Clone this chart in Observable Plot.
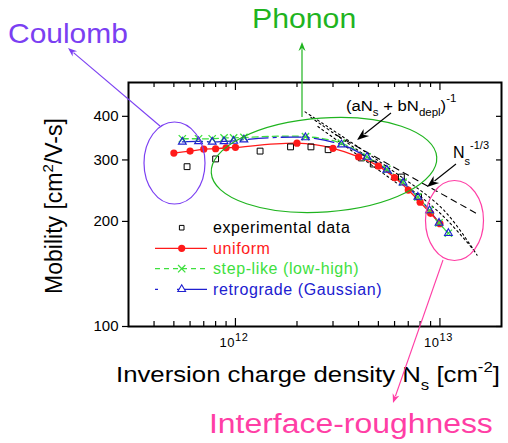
<!DOCTYPE html>
<html><head><meta charset="utf-8">
<script src="https://cdn.jsdelivr.net/npm/d3@7"></script>
<script src="https://cdn.jsdelivr.net/npm/@observablehq/plot@0.6"></script>
<style>
html,body{margin:0;padding:0;background:#fff;}
#chart{position:relative;width:508px;height:443px;overflow:hidden;}
svg{overflow:visible;}
</style></head><body><div id="chart"></div>
<script>
// ---------- data ----------
const nsUniform = [5e11, 6e11, 7e11, 8e11, 9e11, 1e12, 2e12, 3e12, 4e12, 5e12, 6e12, 7e12, 8e12, 9e12, 1e13];
const muUniform = [314, 318, 322, 323, 325, 326, 335, 324, 306, 288, 267, 246, 227, 211, 197];

const nsProfile = [5.5e11, 6.6e11, 7.7e11, 8.8e11, 9.8e11, 1.1e12, 2.2e12, 3.3e12, 4.4e12, 5.5e12, 6.6e12, 7.8e12, 8.9e12, 9.9e12, 1.1e13];
const muStepLike = [345, 345, 345, 347, 347, 348, 350, 335, 306, 282, 259, 235, 215, 198, 185];
const muRetrograde = [338, 339, 338, 339, 340, 343, 348, 332, 306, 281, 258, 235, 215, 198, 185];

const nsExperimental = [5.8e11, 8.0e11, 1.32e12, 1.86e12, 2.34e12, 2.84e12, 4.13e12, 4.72e12, 6.48e12, 7.86e12];
const muExperimental = [287, 302, 318, 327, 327, 321, 304, 292, 268, 235];

// theoretical guide lines
const nsDeplA = [2.19e12, 5.79e12, 1.04e13, 1.52e13];
const muDeplA = [412, 281, 216, 160];
const nsDeplB = [2.34e12, 5.92e12, 1.02e13, 1.47e13];
const muDeplB = [397, 270, 209, 165];
const nsDeplC = [2.53e12, 6.12e12];
const muDeplC = [374, 258];
const nsPower = [3.1e12, 1.55e13];
const muPower = [354, 209];

// axis ticks
const xMajorTicks = [1e12, 1e13];
const xMajorLabels = [["10", "12"], ["10", "13"]];
const xMinorTicks = [4e11, 5e11, 6e11, 7e11, 8e11, 9e11, 2e12, 3e12, 4e12, 5e12, 6e12, 7e12, 8e12, 9e12];
const yTicks = [100, 200, 300, 400];

const seriesNames = ["experimental data", "uniform", "step-like (low-high)", "retrograde (Gaussian)"];

// ---------- build tables ----------
const zip = (xs, ys) => xs.map((x, i) => ({ns: x, mu: ys[i]}));
const uniform = zip(nsUniform, muUniform);
const stepLike = zip(nsProfile, muStepLike);
const retro = zip(nsProfile, muRetrograde);
const expData = zip(nsExperimental, muExperimental);

const FONT = "Arial, 'Liberation Sans', Helvetica, sans-serif";
const RED = "#ff1a1a", GREEN = "#3ee03e", BLUE = "#2020d0";
const PURPLE = "#7b3ff2", PGREEN = "#1fb41f", PINK = "#ff3ea5";

const W = 508, H = 443, ML = 128, MR = 7, MT = 82, MB = 117;
const FW = W - ML - MR, FH = H - MT - MB;

const chart = Plot.plot({
  width: W, height: H,
  marginLeft: ML, marginRight: MR, marginTop: MT, marginBottom: MB,
  x: {type: "log", domain: [3e11, 2e13], axis: null},
  y: {type: "log", domain: [100, 500]},
  style: {fontFamily: FONT, background: "white", color: "#000"},
  marks: [
    Plot.line(zip(nsDeplA, muDeplA), {x: "ns", y: "mu", stroke: "#000", strokeWidth: 1.1, strokeDasharray: "2,3", curve: "catmull-rom"}),
    Plot.line(zip(nsDeplB, muDeplB), {x: "ns", y: "mu", stroke: "#000", strokeWidth: 1.1, strokeDasharray: "2,3", curve: "catmull-rom"}),
    Plot.line(zip(nsDeplC, muDeplC), {x: "ns", y: "mu", stroke: "#000", strokeWidth: 1.1, strokeDasharray: "2,3"}),
    Plot.line(zip(nsPower, muPower), {x: "ns", y: "mu", stroke: "#000", strokeWidth: 1.1, strokeDasharray: "6,5"}),
    Plot.line(stepLike, {x: "ns", y: "mu", stroke: GREEN, strokeWidth: 1.3, strokeDasharray: "6,4", curve: "catmull-rom"}),
    Plot.line(retro, {x: "ns", y: "mu", stroke: BLUE, strokeWidth: 1.3, strokeDasharray: "20,5,3,5", curve: "catmull-rom"}),
    Plot.line(uniform, {x: "ns", y: "mu", stroke: RED, strokeWidth: 1.3, curve: "catmull-rom"}),
    Plot.dot(expData, {x: "ns", y: "mu", symbol: "square", r: 3.3, stroke: "#000", strokeWidth: 1, fill: "none"}),
    Plot.dot(uniform, {x: "ns", y: "mu", symbol: "circle", r: 3.6, fill: RED, stroke: "none"}),
    Plot.dot(stepLike, {x: "ns", y: "mu", symbol: "times", r: 3.4, stroke: GREEN, strokeWidth: 1.3}),
    Plot.dot(retro, {x: "ns", y: "mu", symbol: "triangle", r: 2.9, stroke: BLUE, strokeWidth: 1.1, fill: "none"}),
    // inward ticks bottom/top
    Plot.tickX(xMinorTicks, {x: d => d, insetTop: FH - 5, stroke: "#000", strokeWidth: 1.2}),
    Plot.tickX(xMajorTicks, {x: d => d, insetTop: FH - 8, stroke: "#000", strokeWidth: 1.2}),
    Plot.tickX(xMinorTicks, {x: d => d, insetBottom: FH - 5, stroke: "#000", strokeWidth: 1.2}),
    Plot.tickX(xMajorTicks, {x: d => d, insetBottom: FH - 8, stroke: "#000", strokeWidth: 1.2}),
    // right inward ticks
    Plot.tickY(yTicks, {y: d => d, insetLeft: FW - 5, stroke: "#000", strokeWidth: 1.2}),
    Plot.axisY(yTicks, {anchor: "left", tickSize: 6, tickPadding: 4, tickFormat: d => String(d), label: null, fontSize: 15, strokeWidth: 1.2}),
    Plot.frame({stroke: "#000", strokeWidth: 2})
  ]
});
document.getElementById("chart").appendChild(chart);

// ---------- annotations ----------
const svg = d3.select(chart);
const sx = chart.scale("x"), sy = chart.scale("y");
const ann = svg.append("g").attr("font-family", FONT).attr("text-anchor", "start");

function richText(g, x, y, parts, o) {
  const t = g.append("text").attr("x", 0).attr("y", 0)
    .attr("font-size", o.size).attr("fill", o.color || "#000")
    .attr("text-anchor", o.anchor || "start")
    .attr("transform", `translate(${x},${y})${o.rotate ? ` rotate(${o.rotate})` : ""} scale(${o.stretch || 1},1)`);
  if (o.spacing) t.attr("letter-spacing", o.spacing);
  let shift = 0;
  for (const p of parts) {
    const target = p.sub ? (o.subDy || 5) : p.sup ? -(o.supDy || 7) : 0;
    const ts = t.append("tspan").text(p.t).attr("dy", target - shift);
    shift = target;
    if (p.sub || p.sup) ts.attr("font-size", o.small);
  }
  return t;
}
function label(g, x, y, text, size, color, stretch, spacing) {
  const t = g.append("text").attr("x", 0).attr("y", 0).attr("font-size", size)
    .attr("transform", `translate(${x},${y}) scale(${stretch || 1},1)`)
    .attr("fill", color).attr("text-anchor", "start").text(text);
  if (spacing) t.attr("letter-spacing", spacing);
  return t;
}
function arrow(g, x1, y1, x2, y2, color, len, half, sw) {
  const d = Math.hypot(x2 - x1, y2 - y1);
  g.append("line").attr("x1", x1).attr("y1", y1)
    .attr("x2", x2 - (x2 - x1) * (len * 0.8) / d)
    .attr("y2", y2 - (y2 - y1) * (len * 0.8) / d)
    .attr("stroke", color).attr("stroke-width", sw);
  const a = Math.atan2(y2 - y1, x2 - x1);
  const bx = x2 - len * Math.cos(a), by = y2 - len * Math.sin(a);
  const px = -Math.sin(a) * half, py = Math.cos(a) * half;
  g.append("path").attr("d", `M${x2},${y2}L${bx + px},${by + py}L${x2 - len * 0.7 * Math.cos(a)},${y2 - len * 0.7 * Math.sin(a)}L${bx - px},${by - py}Z`)
    .attr("fill", color);
}

// x tick labels
xMajorTicks.forEach((v, i) => {
  richText(ann, sx.apply(v) - 1, 347, [{t: xMajorLabels[i][0]}, {t: xMajorLabels[i][1], sup: true}],
    {size: 13, small: 11, supDy: 6, anchor: "middle", spacing: 0.6});
});

// axis titles
richText(ann, 116, 382, [{t: "Inversion charge density N"}, {t: "s", sub: true}, {t: " [cm"}, {t: "-2", sup: true}, {t: "]"}],
  {size: 23, small: 15, subDy: 8, supDy: 10, stretch: 1.12});
richText(ann, 62, 206, [{t: "Mobility [cm"}, {t: "2", sup: true}, {t: "/V-s]"}],
  {size: 23, small: 15, supDy: 9, anchor: "middle", rotate: -90});

// ellipses
ann.append("ellipse").attr("cx", 174.5).attr("cy", 163).attr("rx", 30.5).attr("ry", 41)
  .attr("fill", "none").attr("stroke", PURPLE).attr("stroke-width", 1.2);
ann.append("ellipse").attr("cx", 0).attr("cy", 0).attr("rx", 113).attr("ry", 47)
  .attr("transform", "translate(324,165) rotate(-4)")
  .attr("fill", "none").attr("stroke", PGREEN).attr("stroke-width", 1.2);
ann.append("ellipse").attr("cx", 454.5).attr("cy", 220.5).attr("rx", 29).attr("ry", 40)
  .attr("fill", "none").attr("stroke", PINK).attr("stroke-width", 1.2);

// coloured arrows + labels
arrow(ann, 160, 126, 68, 48, PURPLE, 9, 3.5, 1.1);
arrow(ann, 302, 117, 302, 42, PGREEN, 9, 3.5, 1.2);
arrow(ann, 443, 260, 393, 403, PINK, 9, 3.5, 1.1);
label(ann, 8, 43, "Coulomb", 27, PURPLE, 1.11);
label(ann, 252, 28, "Phonon", 28, PGREEN, 1.08);
label(ann, 209, 433, "Interface-roughness", 28, PINK, 1.14);

// black theory labels + arrows
richText(ann, 346, 111, [{t: "(aN"}, {t: "s", sub: true}, {t: " + bN"}, {t: "depl", sub: true}, {t: ")"}, {t: "-1", sup: true}],
  {size: 14.5, small: 10, subDy: 5, supDy: 9, stretch: 1.15});
arrow(ann, 391, 113, 357, 140, "#000", 12, 4.5, 1.1);
richText(ann, 453, 158, [{t: "N"}, {t: "s", sub: true}, {t: "-1/3", sup: true}],
  {size: 16, small: 11, subDy: 7, supDy: 9});
arrow(ann, 456, 164, 427, 187, "#000", 12, 4.5, 1.1);

// legend
const lg = ann.append("g");
const rowsY = [227.7, 248.3, 268.7, 289.3];
const colors = ["#000", RED, GREEN, BLUE];
const symX = 181.7, lx0 = 155, lx1 = 207, tx = 213;
lg.append("line").attr("x1", lx0).attr("x2", lx1).attr("y1", rowsY[1]).attr("y2", rowsY[1]).attr("stroke", RED).attr("stroke-width", 1.3);
lg.append("line").attr("x1", lx0).attr("x2", lx1).attr("y1", rowsY[2]).attr("y2", rowsY[2]).attr("stroke", GREEN).attr("stroke-width", 1.3).attr("stroke-dasharray", "5,4");
lg.append("line").attr("x1", lx0).attr("x2", lx1).attr("y1", rowsY[3]).attr("y2", rowsY[3]).attr("stroke", BLUE).attr("stroke-width", 1.3).attr("stroke-dasharray", "3,19,40");
const sym = (type, r) => d3.symbol(type, Math.PI * r * r)();
lg.append("path").attr("d", sym(d3.symbolSquare, 2.6)).attr("transform", `translate(${symX},${rowsY[0]})`).attr("fill", "none").attr("stroke", "#000");
lg.append("path").attr("d", sym(d3.symbolCircle, 3.6)).attr("transform", `translate(${symX},${rowsY[1]})`).attr("fill", RED);
lg.append("path").attr("d", sym(d3.symbolTimes, 3.4)).attr("transform", `translate(${symX},${rowsY[2]})`).attr("fill", "none").attr("stroke", GREEN).attr("stroke-width", 1.3);
lg.append("path").attr("d", sym(d3.symbolTriangle, 2.9)).attr("transform", `translate(${symX},${rowsY[3]})`).attr("fill", "white").attr("stroke", BLUE).attr("stroke-width", 1.1);
seriesNames.forEach((name, i) => {
  label(lg, tx, rowsY[i] + 5.5, name, 16, colors[i], 1, 0.6);
});
</script></body></html>
